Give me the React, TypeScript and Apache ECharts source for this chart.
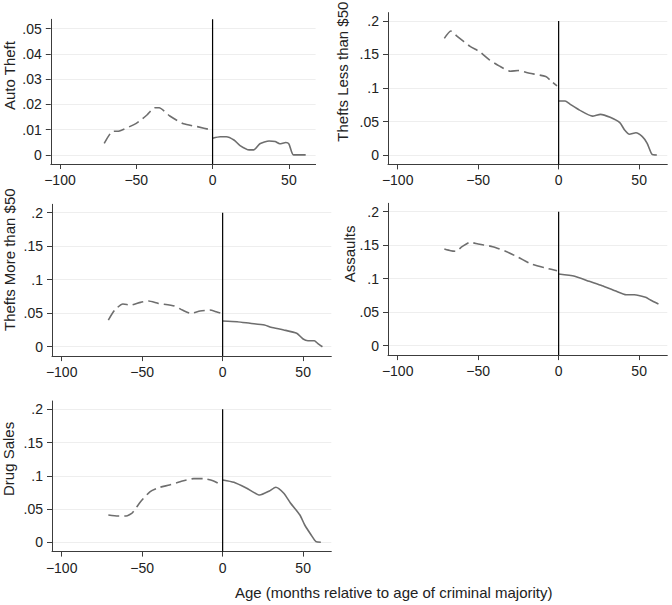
import React, { useEffect, useRef } from "react";
import * as echarts from "echarts";

// ---- Data (months relative to age of criminal majority, rates) ----
const autoPreX = [-71, -66, -61, -50, -43, -38, -35, -28, -19, -10, -1];
const autoPreY = [0.0046, 0.0092, 0.0095, 0.0125, 0.0158, 0.0187, 0.0187, 0.0154, 0.0123, 0.0112, 0.0099];
const autoPostX = [0, 5, 9, 14, 18, 24, 27, 31, 37, 41, 44, 48, 50, 53, 61];
const autoPostY = [0.0066, 0.0072, 0.0072, 0.0059, 0.0037, 0.002, 0.002, 0.0044, 0.0055, 0.0053, 0.0044, 0.0049, 0.0044, 0, 0];

const lessPreX = [-71, -67, -63, -55, -49, -43, -37, -30, -25, -18, -8, -4, -1];
const lessPreY = [0.174, 0.185, 0.177, 0.162, 0.154, 0.142, 0.133, 0.125, 0.126, 0.122, 0.117, 0.109, 0.103];
const lessPostX = [0, 4, 7, 13, 21, 26, 32, 38, 41, 44, 48, 52, 55, 58, 61];
const lessPostY = [0.0806, 0.0806, 0.076, 0.067, 0.058, 0.0607, 0.0562, 0.0482, 0.0373, 0.031, 0.0333, 0.0274, 0.0174, 0.001, 0];

const morePreX = [-71, -67, -62, -57, -51, -46, -40, -30, -25, -20, -14, -8, -4, -1];
const morePreY = [0.0398, 0.0548, 0.0637, 0.0622, 0.0662, 0.0682, 0.0647, 0.0607, 0.0547, 0.0498, 0.0532, 0.0547, 0.0522, 0.0498];
const morePostX = [0, 9, 17, 26, 30, 38, 46, 50, 53, 57, 59, 62];
const morePostY = [0.0383, 0.0373, 0.0349, 0.0324, 0.029, 0.025, 0.02, 0.0115, 0.009, 0.009, 0.005, 0];

const assaultPreX = [-71, -67, -64, -60, -55, -50, -41, -33, -25, -17, -8, -1];
const assaultPreY = [0.1443, 0.1418, 0.1409, 0.1478, 0.1543, 0.1518, 0.1478, 0.1409, 0.1319, 0.1219, 0.116, 0.112];
const assaultPostX = [0, 10, 19, 27, 35, 42, 47, 54, 57, 62];
const assaultPostY = [0.107, 0.1036, 0.0961, 0.0896, 0.0821, 0.0761, 0.0761, 0.0722, 0.0682, 0.0622];

const drugPreX = [-71, -65, -60, -56, -51, -45, -39, -33, -25, -18, -12, -6, -1];
const drugPreY = [0.041, 0.0395, 0.0395, 0.0445, 0.061, 0.0761, 0.0827, 0.0862, 0.0922, 0.0957, 0.0957, 0.0927, 0.0862];
const drugPostX = [0, 7, 15, 23, 29, 33, 38, 42, 48, 51, 55, 58, 61];
const drugPostY = [0.0937, 0.0902, 0.0812, 0.0711, 0.0771, 0.0827, 0.0737, 0.0596, 0.041, 0.026, 0.011, 0.001, 0];

const X_TICKS = [-100, -50, 0, 50];
const SMALL_Y_TICKS = [0, 0.01, 0.02, 0.03, 0.04, 0.05];
const LARGE_Y_TICKS = [0, 0.05, 0.1, 0.15, 0.2];
const TITLES = ["Auto Theft", "Thefts Less than $50", "Thefts More than $50", "Assaults", "Drug Sales"];
const X_TITLE = "Age (months relative to age of criminal majority)";
const CUTOFF = 0;

// ---- Layout ----
const X_MIN = -106;
const X_MAX = 67.5;
const FONT = "'Liberation Sans', Arial, Helvetica, sans-serif";
const LINE_COLOR = "#6e6e6e";
const AXIS_COLOR = "#3c3c3c";
const TEXT_COLOR = "#222";

const zip = (xs: number[], ys: number[]) => xs.map((x, i) => [x, ys[i]]);

const panels = [
  { pre: zip(autoPreX, autoPreY), post: zip(autoPostX, autoPostY), ticks: SMALL_Y_TICKS, yMin: -0.0036, yMax: 0.0537, lineTop: 0.0537,
    grid: { left: 50.8, top: 19.3, width: 264.8, height: 144.7 }, title: { x: 9.7, y: 110 } },
  { pre: zip(lessPreX, lessPreY), post: zip(lessPostX, lessPostY), ticks: LARGE_Y_TICKS, yMin: -0.014, yMax: 0.2125, lineTop: 0.2,
    grid: { left: 388, top: 12.6, width: 279.3, height: 151.8 }, title: { x: 342.5, y: 141.7 } },
  { pre: zip(morePreX, morePreY), post: zip(morePostX, morePostY), ticks: LARGE_Y_TICKS, yMin: -0.014, yMax: 0.2125, lineTop: 0.2,
    grid: { left: 52, top: 204.3, width: 279.3, height: 151.8 }, title: { x: 9.7, y: 331 } },
  { pre: zip(assaultPreX, assaultPreY), post: zip(assaultPostX, assaultPostY), ticks: LARGE_Y_TICKS, yMin: -0.014, yMax: 0.2125, lineTop: 0.2,
    grid: { left: 388, top: 203.3, width: 279.3, height: 151.8 }, title: { x: 349, y: 282.3 } },
  { pre: zip(drugPreX, drugPreY), post: zip(drugPostX, drugPostY), ticks: LARGE_Y_TICKS, yMin: -0.014, yMax: 0.2125, lineTop: 0.2,
    grid: { left: 52, top: 401, width: 279.3, height: 150.6 }, title: { x: 8, y: 496 } },
];

const fmtX = (v: number) => (v < 0 ? "\u2212" + Math.abs(v) : String(v));
const fmtY = (v: number) => (v === 0 ? "0" : String(+v.toFixed(3)).replace(/^0\./, "."));

export default function App() {
  const ref = useRef<HTMLDivElement>(null);
  useEffect(() => {
    if (!ref.current) return;
    const chart = echarts.init(ref.current, undefined, { renderer: "svg" });
    const grid: any[] = [];
    const xAxis: any[] = [];
    const yAxis: any[] = [];
    const series: any[] = [];
    const graphic: any[] = [];
    panels.forEach((p, i) => {
      grid.push({ ...p.grid });
      xAxis.push({
        type: "value", gridIndex: i, min: X_MIN, max: X_MAX,
        axisLine: { show: true, onZero: false, lineStyle: { color: AXIS_COLOR, width: 1 } },
        axisTick: { show: true, length: 5, customValues: X_TICKS, lineStyle: { color: AXIS_COLOR, width: 1 } },
        axisLabel: { customValues: X_TICKS, formatter: fmtX, color: TEXT_COLOR, fontSize: 14, fontFamily: FONT, margin: 9 },
        splitLine: { show: false },
      });
      yAxis.push({
        type: "value", gridIndex: i, min: p.yMin, max: p.yMax,
        axisLine: { show: true, onZero: false, lineStyle: { color: AXIS_COLOR, width: 1 } },
        axisTick: { show: true, length: 5, customValues: p.ticks, lineStyle: { color: AXIS_COLOR, width: 1 } },
        axisLabel: { customValues: p.ticks, formatter: fmtY, color: TEXT_COLOR, fontSize: 14, fontFamily: FONT, margin: 9 },
        splitLine: { show: true, lineStyle: { color: "#eeeeee", width: 1 } },
      });
      series.push({
        type: "line", xAxisIndex: i, yAxisIndex: i, data: p.pre, showSymbol: false, symbol: "none",
        smooth: 0.2, lineStyle: { color: LINE_COLOR, width: 1.6, type: [11, 5] }, silent: true,
      });
      series.push({
        type: "line", xAxisIndex: i, yAxisIndex: i, data: p.post, showSymbol: false, symbol: "none",
        smooth: 0.2, lineStyle: { color: LINE_COLOR, width: 1.6 }, silent: true,
      });
      series.push({
        type: "line", xAxisIndex: i, yAxisIndex: i, data: [[CUTOFF, p.yMin], [CUTOFF, p.lineTop]],
        showSymbol: false, symbol: "none", lineStyle: { color: "#000", width: 1.2 }, silent: true, z: 3,
      });
      graphic.push({
        type: "text", x: p.title.x, y: p.title.y, rotation: Math.PI / 2,
        style: { text: TITLES[i], fontSize: 15, fontFamily: FONT, fill: TEXT_COLOR, align: "left", verticalAlign: "middle" },
      });
    });
    graphic.push({
      type: "text", x: 393.7, y: 592,
      style: { text: X_TITLE, fontSize: 15, fontFamily: FONT, fill: TEXT_COLOR, align: "center", verticalAlign: "middle" },
    });
    chart.setOption({
      animation: false,
      backgroundColor: "#fff",
      grid, xAxis, yAxis, series, graphic,
    });
    return () => chart.dispose();
  }, []);
  return <div ref={ref} style={{ position: "absolute", left: 0, top: 0, width: 672, height: 605 }} />;
}
